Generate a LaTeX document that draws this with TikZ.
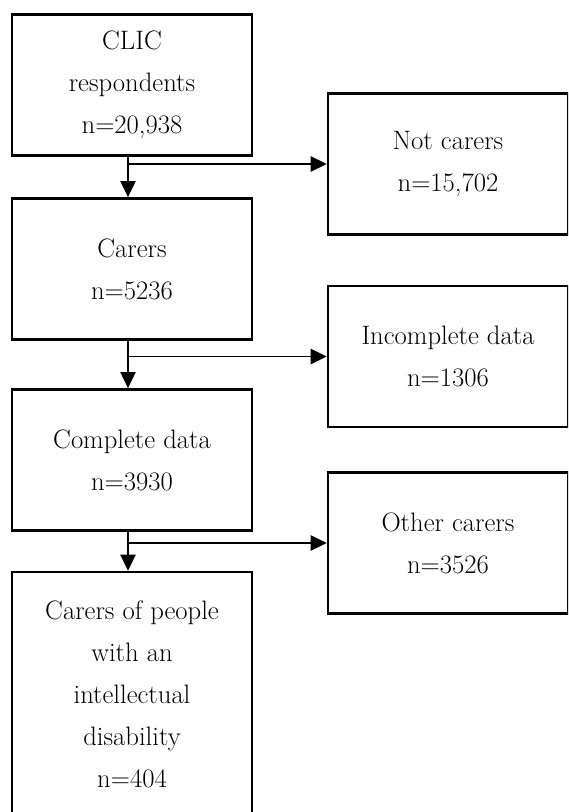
\documentclass[tikz,border=0pt]{standalone}
\usepackage{fontspec}
\setmainfont{Latin Modern Roman}
\usetikzlibrary{arrows.meta}
\begin{document}
\begin{tikzpicture}[x=0.75pt,y=-0.75pt,
  box/.style={draw,line width=1.9pt,minimum width=180pt,minimum height=106pt,
    align=center,inner sep=0pt,font=\fontsize{20}{31.5}\selectfont},
  conn/.style={line width=0.8pt,-{Triangle[length=12pt,width=11.5pt]}},
  plain/.style={line width=0.8pt}]
\clip (0,0) rectangle (568,812);
\fill[white] (0,0) rectangle (568,812);
% left column
\node[box] (b1) at (132,85) {CLIC\\respondents\\n=20,938};
\node[box] (b2) at (132,269) {Carers\\n=5236};
\node[box] (b3) at (132,460) {Complete data\\n=3930};
\node[box,minimum height=183pt] (b4) at (132,694) {Carers of people\\with an\\intellectual\\disability\\n=404};
% right column
\node[box] (r1) at (448,164) {Not carers\\n=15,702};
\node[box] (r2) at (448,356.5) {Incomplete data\\n=1306};
\node[box] (r3) at (448,543) {Other carers\\n=3526};
% connectors
\coordinate (j1) at ([xshift=-3pt]b1.south |- r1.west);
\coordinate (j2) at ([xshift=-3pt]b2.south |- r2.west);
\coordinate (j3) at ([xshift=-3pt]b3.south |- r3.west);
\draw[conn] ([xshift=-3pt]b1.south) -- ([xshift=-3pt]b2.north);
\draw[conn] ([xshift=-3pt]b2.south) -- ([xshift=-3pt]b3.north);
\draw[conn] ([xshift=-3pt]b3.south) -- ([xshift=-3pt]b4.north);
\draw[conn] (j1) -- (r1.west);
\draw[conn] (j2) -- (r2.west);
\draw[conn] (j3) -- (r3.west);
\end{tikzpicture}
\end{document}
